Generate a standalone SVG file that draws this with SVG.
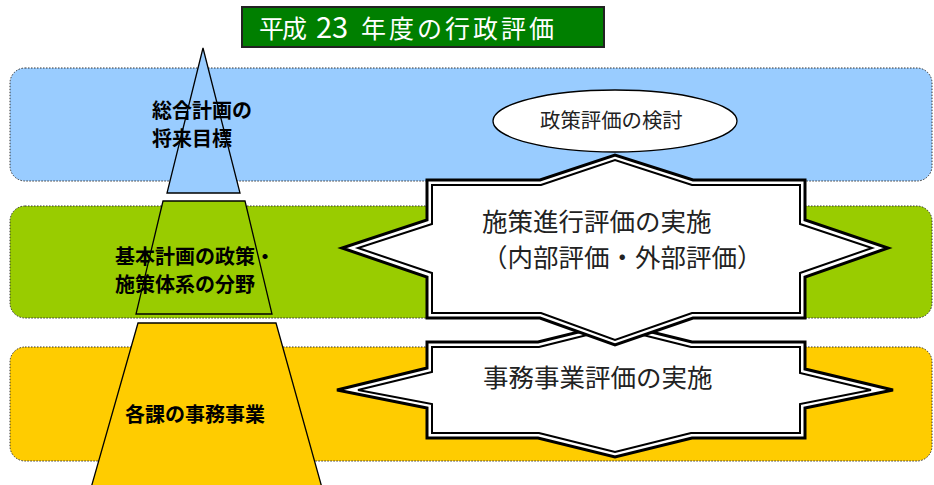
<svg xmlns="http://www.w3.org/2000/svg" width="934" height="485" viewBox="0 0 934 485">
<style>
.band{stroke:#333;stroke-width:1;stroke-dasharray:1.5 1.5}
.pyr{stroke:#000;stroke-width:1.3}
.lbl{font-family:"Noto Sans CJK JP","Noto Sans",sans-serif;font-weight:bold;font-size:20px;fill:#000}
.txt{font-family:"Noto Sans CJK JP","Noto Sans",sans-serif;font-size:25.5px;fill:#222}
.outer{fill:#fff;stroke:#000;stroke-width:3;stroke-linejoin:miter}
.inner{fill:none;stroke:#000;stroke-width:2;stroke-linejoin:miter}
</style>
<rect width="934" height="485" fill="#fff"/>
<g id="bands">
<rect class="band" x="10" y="68" width="922" height="113" rx="15" fill="#99CCFF"/>
<rect class="band" x="10" y="206" width="922" height="112" rx="15" fill="#99CC00"/>
<rect class="band" x="10" y="347" width="922" height="114" rx="15" fill="#FFCC00"/>
</g>
<g id="title">
<rect x="242" y="7" width="362" height="40" fill="#007F00" stroke="#222" stroke-width="2"/>
<text y="38" font-family="'Noto Sans CJK JP','Noto Sans',sans-serif" font-size="25" fill="#fff"><tspan x="259" letter-spacing="-2">平成</tspan><tspan x="316" font-size="29">23</tspan><tspan x="361" letter-spacing="3">年度の行政評価</tspan></text>
</g>
<g id="pyramid-top">
<polygon class="pyr" points="203,48 240,193 167,193" fill="#99CCFF"/>
<text class="lbl"><tspan x="152" y="118">総合計画の</tspan><tspan x="152" y="146">将来目標</tspan></text>
</g>
<g id="pyramid-mid">
<polygon class="pyr" points="163,201 245,201 272,314 136,314" fill="#99CC00"/>
<text class="lbl"><tspan x="115" y="264">基本計画の政策・</tspan><tspan x="115" y="292">施策体系の分野</tspan></text>
</g>
<g id="pyramid-bottom">
<polygon class="pyr" points="138,323 276,323 324,495 89,495" fill="#FFCC00"/>
<text class="lbl" x="125" y="422" font-size="20.5">各課の事務事業</text>
</g>
<g id="policy-review">
<ellipse cx="615" cy="121" rx="122" ry="31" fill="#fff" stroke="#000" stroke-width="1.3"/>
<text x="540" y="128" font-family="'Noto Sans CJK JP','Noto Sans',sans-serif" font-size="20.4" fill="#222">政策評価の検討</text>
</g>
<g id="jimu-eval">
<polygon class="outer" points="427,342 538,342 615,323 692,342 805,342 805,369 893,390 805,408 805,438 692,438 615,457 538,438 427,438 427,408 337,390 427,368"/>
<polygon class="inner" points="432,347 539,347 615,328 691,347 800,347 800,373 871,390 800,404 800,433 691,433 615,452 539,433 432,433 432,404 358,390 432,372"/>
<text class="txt" x="483" y="387">事務事業評価の実施</text>
</g>
<g id="shisaku-eval">
<polygon class="outer" points="427,180 540,180 615,155 693,180 805,180 805,220 888,248 805,277 805,318 693,318 615,345 540,318 427,318 427,277 342,248 427,220"/>
<polygon class="inner" points="432,185 541,185 615,160 692,185 800,185 800,224 872,248 800,273 800,313 692,313 615,340 541,313 432,313 432,273 358,248 432,224"/>
<text class="txt"><tspan x="482" y="231">施策進行評価の実施</tspan><tspan x="482" y="267">（内部評価・外部評価）</tspan></text>
</g>
<g id="connectors"/>
</svg>
